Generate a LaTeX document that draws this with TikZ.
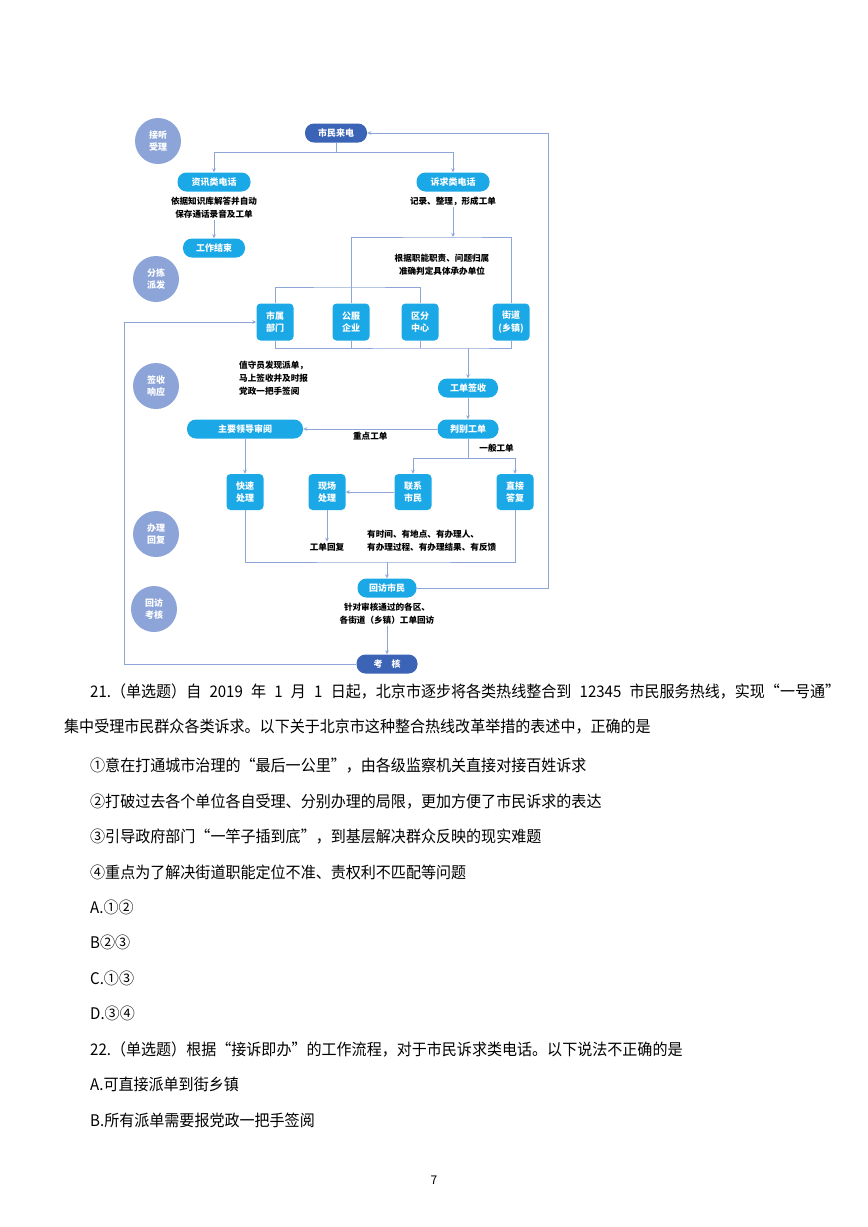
\documentclass[tikz,border=0pt]{standalone}
\usepackage{fontspec}
\setmainfont{Noto Sans CJK SC}
\newfontfamily\cjk{Noto Sans CJK SC}
\newfontfamily\qfont[FakeStretch=0.94]{Noto Sans CJK SC}
\usetikzlibrary{arrows.meta,positioning}
\definecolor{flowblue}{HTML}{1AA8E6}
\definecolor{flowdark}{HTML}{3B63B6}
\definecolor{flowstage}{HTML}{8CA4D8}
\definecolor{flowline}{HTML}{8EA6D6}
\tikzset{
  >={Stealth[length=4pt,width=3.6pt]},
  stage/.style={circle,fill=flowstage,text=white,minimum size=46pt,inner sep=0pt,
                align=center,font=\cjk\bfseries\fontsize{9}{12.5}\selectfont},
  pill/.style={fill=flowblue,text=white,rounded corners=9pt,minimum height=19pt,
               inner sep=2pt,align=center,font=\cjk\bfseries\fontsize{9}{11}\selectfont},
  endpill/.style={pill,fill=flowdark},
  unit/.style={fill=flowblue,text=white,rounded corners=4pt,minimum width=37pt,
               minimum height=37pt,inner sep=1pt,align=center,
               font=\cjk\bfseries\fontsize{9}{12.5}\selectfont},
  note/.style={text=black,align=center,inner sep=1pt,
               font=\cjk\bfseries\fontsize{8.6}{13}\selectfont},
  flow/.style={->,draw=flowline,line width=0.8pt},
  link/.style={draw=flowline,line width=0.8pt},
  qline/.style={anchor=west,inner sep=0pt,font=\qfont\fontsize{16}{16}\selectfont},
}

\begin{document}
\begin{tikzpicture}[x=1pt,y=-1pt]
  \useasboundingbox (0,0) rectangle (868,1227);
  \fill[white] (0,0) rectangle (868,1227);

  % stages on the left
  \node[stage] (take) at (158,141) {接听\\受理};
  \node[stage] (sort) at (156,279) {分拣\\派发};
  \node[stage] (receive) at (156,386) {签收\\响应};
  \node[stage] (handle) at (156,534) {办理\\回复};
  \node[stage] (review) at (154,609) {回访\\考核};

  % incoming calls
  \node[endpill,minimum width=62pt] (call) at (336,133) {市民来电};
  \node[pill,minimum width=73pt] (info) at (214,182) {资讯类电话};
  \node[note] (infotxt) at (214,208) {依据知识库解答并自动\\保存通话录音及工单};
  \node[pill,minimum width=62pt] (done) at (214,248) {工作结束};
  \node[pill,minimum width=73pt] (appeal) at (453,182) {诉求类电话};
  \node[note] (appealtxt) at (453,201) {记录、整理，形成工单};
  \node[note] (assigntxt) at (442,265) {根据职能职责、问题归属\\准确判定具体承办单位};

  % units that take the order
  \node[unit] (dept) at (275,322) {市属\\部门};
  \node[unit] (firm) at (351,322) {公服\\企业};
  \node[unit] (dist) at (420,322) {区分\\中心};
  \node[unit] (street) at (511,322) {街道\\(乡镇)};

  \node[note,align=left,anchor=west] (signtxt) at (238,378)
    {值守员发现派单，\\马上签收并及时报\\党政一把手签阅};
  \node[pill,minimum width=60pt] (sign) at (468,388) {工单签收};
  \node[pill,minimum width=61pt] (judge) at (468,429) {判别工单};
  \node[pill,minimum width=116pt] (lead) at (245,429) {主要领导审阅};

  \node[unit,minimum height=36pt] (quick) at (245,492) {快速\\处理};
  \node[unit,minimum height=36pt] (site) at (327,492) {现场\\处理};
  \node[unit,minimum height=36pt] (contact) at (413,492) {联系\\市民};
  \node[unit,minimum height=36pt] (reply) at (515,492) {直接\\答复};
  \node[note] (sitetxt) at (327,547) {工单回复};
  \node[note,align=left,anchor=west] (reqtxt) at (366,541)
    {有时间、有地点、有办理人、\\有办理过程、有办理结果、有反馈};

  \node[pill,minimum width=59pt] (visit) at (387,588) {回访市民};
  \node[note] (visittxt) at (387,614) {针对审核通过的各区、\\各街道（乡镇）工单回访};
  \node[endpill,minimum width=61pt] (exam) at (387,664) {考　核};

  \coordinate (fork) at (336,152);
  \coordinate (route) at (453,237);
  \coordinate (hub) at (351,287);
  \coordinate (collect) at (468,348);
  \coordinate (branch) at (468,458);
  \coordinate (gather) at (387,562);
  \coordinate (leftrun) at (124,322);
  \coordinate (rightrun) at (548,133);

  \draw[link] (call.south) -- (fork);
  \draw[flow] (fork) -| (info.north);
  \draw[flow] (fork) -| (appeal.north);
  \draw[flow] (infotxt) -- (done);
  \draw[flow] (appealtxt) -- (route);
  \draw[link] (firm.north) |- (route) -| (street.north);
  \draw[link] (dept.north) |- (hub) -| (dist.north);
  \draw[link] (dept.south) |- (collect) -| (street.south);
  \draw[link] (firm.south) -- (firm.south |- collect);
  \draw[link] (dist.south) -- (dist.south |- collect);
  \draw[flow] (collect) -- (sign);
  \draw[flow] (sign) -- (judge);
  \draw[flow] (judge) -- node[note,below=2pt]{重点工单} (lead);
  \draw[link] (judge) -- node[note,right=10pt]{一般工单} (branch);
  \draw[flow] (branch) -| (contact);
  \draw[flow] (branch) -| (reply);
  \draw[flow] (lead) -- (quick);
  \draw[flow] (contact) -- (site);
  \draw[flow] (site) -- (sitetxt);
  \draw[link] (quick.south) |- (gather) -| (reply.south);
  \draw[flow] (gather) -- (visit);
  \draw[flow] (visittxt) -- (exam);

  % feedback loops
  \draw[flow] (exam.west) -| (leftrun) -- (dept.west);
  \draw[flow] (visit.east) -| (rightrun) -- (call.east);

  % questions
  \node[qline] (q21) at (90,691) {\makebox[750pt][s]{21.（单选题）自 2019 年 1 月 1 日起，北京市逐步将各类热线整合到 12345 市民服务热线，实现“一号通”}};
  \node[qline] (q21b) at (64,727) {集中受理市民群众各类诉求。以下关于北京市这种整合热线改革举措的表述中，正确的是};
  \node[qline] (opt1) at (90,766) {①意在打通城市治理的“最后一公里”，由各级监察机关直接对接百姓诉求};
  \node[qline] (opt2) at (90,802) {②打破过去各个单位各自受理、分别办理的局限，更加方便了市民诉求的表达};
  \node[qline] (opt3) at (90,837) {③引导政府部门“一竿子插到底”，到基层解决群众反映的现实难题};
  \node[qline] (opt4) at (90,872) {④重点为了解决街道职能定位不准、责权利不匹配等问题};
  \node[qline] (a21) at (90,907) {A.①②};
  \node[qline] (b21) at (90,942) {B②③};
  \node[qline] (c21) at (90,978) {C.①③};
  \node[qline] (d21) at (90,1013) {D.③④};
  \node[qline] (q22) at (90,1049) {22.（单选题）根据“接诉即办”的工作流程，对于市民诉求类电话。以下说法不正确的是};
  \node[qline] (a22) at (90,1084) {A.可直接派单到街乡镇};
  \node[qline] (b22) at (90,1120) {B.所有派单需要报党政一把手签阅};
  \node[font=\fontsize{12}{12}\selectfont] (page) at (434,1180) {7};
\end{tikzpicture}
\end{document}
